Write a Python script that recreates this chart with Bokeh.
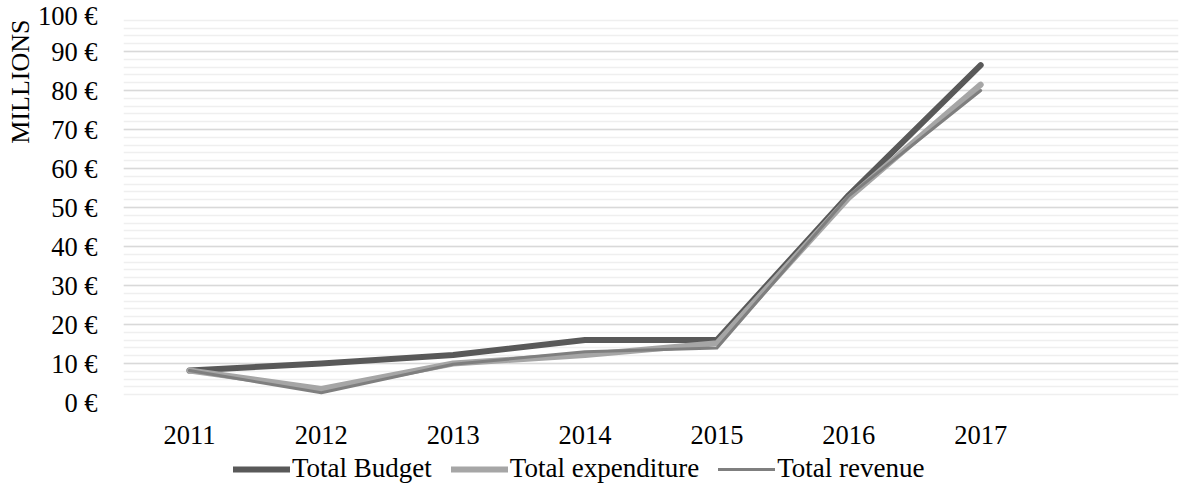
from bokeh.plotting import figure
from bokeh.models import (ColumnDataSource, Legend, LegendItem, SingleIntervalTicker,
                          FixedTicker, Range1d, Title)
from bokeh.layouts import column
from bokeh.embed import file_html
from bokeh.resources import INLINE

years = [2011, 2012, 2013, 2014, 2015, 2016, 2017]
total_budget = [8.2, 10.0, 12.2, 16.0, 16.0, 53.2, 86.5]
total_expenditure = [8.2, 3.5, 10.0, 12.2, 15.2, 52.5, 81.5]
total_revenue = [8.2, 2.5, 9.8, 13.0, 14.0, 53.0, 80.0]
y_ticks = list(range(0, 101, 10))
y_labels = {v: f"{v} €" for v in y_ticks}
series_names = ["Total Budget", "Total expenditure", "Total revenue"]

FONT = "Liberation Serif"
FS = "26.5px"
COLORS = ["#595959", "#a6a6a6", "#7f7f7f"]
WIDTHS = [6, 6, 3]

p = figure(width=1182, height=452, output_backend="svg", toolbar_location=None,
           x_range=Range1d(2010.5, 2018.5), y_range=Range1d(0, 100),
           min_border_left=123, min_border_right=4, min_border_top=12,
           min_border_bottom=50)
p.outline_line_color = None
p.background_fill_color = "white"

src = ColumnDataSource(dict(x=years, b=total_budget, e=total_expenditure, r=total_revenue))
cols = ["b", "e", "r"]
for c, col, w in zip(cols, COLORS, WIDTHS):
    p.line("x", c, source=src, line_color=col, line_width=w,
           line_cap="round", line_join="round")

# axes
p.xaxis.ticker = FixedTicker(ticks=years)
p.xaxis.axis_line_color = None
p.xaxis.major_tick_line_color = None
p.xaxis.minor_tick_line_color = None
p.xaxis.major_label_text_font = FONT
p.xaxis.major_label_text_font_size = FS
p.xaxis.major_label_text_color = "black"
p.xaxis.major_label_standoff = 17

p.yaxis.ticker = SingleIntervalTicker(interval=10, num_minor_ticks=5)
p.yaxis.major_label_overrides = y_labels
p.yaxis.axis_line_color = None
p.yaxis.major_tick_line_color = None
p.yaxis.minor_tick_line_color = None
p.yaxis.major_label_text_font = FONT
p.yaxis.major_label_text_font_size = FS
p.yaxis.major_label_text_color = "black"
p.yaxis.major_label_standoff = 20

ytitle = Title(text="MILLIONS", align="right", text_font=FONT, text_font_size="26px",
               text_font_style="normal", text_color="black", offset=7, standoff=0)
p.add_layout(ytitle, "left")

p.xgrid.grid_line_color = None
p.ygrid.grid_line_color = "#d9d9d9"
p.ygrid.grid_line_width = 1.5
p.ygrid.minor_grid_line_color = "#efefef"
p.ygrid.minor_grid_line_width = 1.5

# legend strip below the chart (its frame is aligned with the chart frame)
lf = figure(width=1182, height=34, output_backend="svg", toolbar_location=None,
            x_range=Range1d(0, 1), y_range=Range1d(0, 1),
            x_axis_type=None, y_axis_type=None,
            min_border_left=0, min_border_right=0, min_border_top=0, min_border_bottom=0)
lf.outline_line_color = None
lf.xgrid.grid_line_color = None
lf.ygrid.grid_line_color = None
items = []
for c, col, w, name in zip(cols, COLORS, WIDTHS, series_names):
    r = lf.line("x", c, source=src, line_color=col, line_width=w,
                line_cap="round", line_join="round")
    items.append(LegendItem(label=name, renderers=[r]))

legend = Legend(items=items, orientation="horizontal", location=(110, 2))
legend.label_text_font = FONT
legend.label_text_font_size = "27px"
legend.label_text_color = "black"
legend.glyph_width = 57
legend.glyph_height = 20
legend.label_standoff = 2
legend.spacing = 19
legend.padding = 0
legend.margin = 0
legend.border_line_color = None
legend.background_fill_alpha = 0
lf.add_layout(legend, "center")

layout = column(p, lf, spacing=0)
open("out.html", "w").write(file_html(layout, INLINE))
